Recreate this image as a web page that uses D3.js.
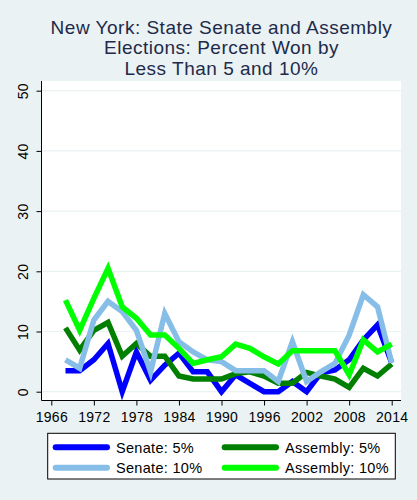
<!DOCTYPE html>
<html>
<head>
<meta charset="utf-8">
<script src="https://cdn.jsdelivr.net/npm/d3@7"></script>
<style>
  body { margin: 0; background: #eaf2f3; }
  text { font-family: "Liberation Sans", Arial, sans-serif; }
</style>
</head>
<body>
<div id="chartContainer"></div>
<script>
// election years and percent of races won by small margins
const years = [1968, 1970, 1972, 1974, 1976, 1978, 1980, 1982, 1984, 1986, 1988, 1990,
               1992, 1994, 1996, 1998, 2000, 2002, 2004, 2006, 2008, 2010, 2012, 2014];
const senate5 = [3.5, 3.5, 5.3, 8.0, 0, 6.6, 1.9, 4.4, 6.4, 3.3, 3.3, 0,
                 2.8, 1.4, 0, 0, 1.7, 0, 3.1, 3.6, 5.3, 8.6, 11.1, 4.8];
const assembly5 = [10.6, 6.9, 10.2, 11.5, 5.9, 8.0, 5.9, 5.9, 2.6, 2.1, 2.1, 2.1,
                   3.0, 3.3, 2.6, 1.4, 1.4, 3.2, 2.6, 2.1, 0.7, 3.9, 2.6, 4.6];
const senate10 = [5.3, 3.9, 11.9, 15.0, 13.3, 10.2, 3.3, 13.0, 8.3, 6.6, 5.3, 5.0,
                  3.5, 3.5, 3.5, 1.7, 8.3, 1.7, 3.3, 4.7, 9.4, 16.1, 14.1, 4.8];
const assembly10 = [15.2, 10.2, 15.5, 20.5, 14.1, 12.2, 9.4, 9.4, 7.2, 4.7, 5.3, 5.8,
                    7.9, 7.2, 5.8, 4.6, 6.8, 6.8, 6.8, 6.8, 2.8, 8.6, 6.6, 7.9];

const xTicks = [1966, 1972, 1978, 1984, 1990, 1996, 2002, 2008, 2014];
const yTicks = [0, 10, 20, 30, 40, 50];
const titleLines = ["New York: State Senate and Assembly", "Elections: Percent Won by", "Less Than 5 and 10%"];

// series in drawing order; legend is laid out row by row
const series = [
  { name: "Senate: 5%", values: senate5, color: "#0000ff" },
  { name: "Assembly: 5%", values: assembly5, color: "#007f00" },
  { name: "Senate: 10%", values: senate10, color: "#87bee8" },
  { name: "Assembly: 10%", values: assembly10, color: "#00ff00" }
];

const W = 417, H = 500;
const plot = { left: 41.5, right: 401, top: 81, bottom: 400.5 };

const svg = d3.select("#chartContainer")
  .append("svg")
  .attr("width", W)
  .attr("height", H);

svg.append("rect").attr("width", W).attr("height", H).attr("fill", "#eaf2f3");

// title
svg.append("g")
  .selectAll("text")
  .data(titleLines)
  .enter()
  .append("text")
  .attr("x", 221.5)
  .attr("y", (d, i) => 34 + i * 20.3)
  .attr("text-anchor", "middle")
  .attr("font-size", "19px")
  .attr("letter-spacing", "0.5px")
  .attr("fill", "#1e2a4a")
  .text(d => d);

// plot region
svg.append("rect")
  .attr("x", plot.left)
  .attr("y", plot.top)
  .attr("width", plot.right - plot.left)
  .attr("height", plot.bottom - plot.top)
  .attr("fill", "#ffffff");

const xScale = d3.scaleLinear().domain([1966, 2014]).range([51.3, 391.7]);
const yScale = d3.scaleLinear().domain([0, 50]).range([391.7, 90.7]);

// gridlines
svg.append("g")
  .selectAll("line")
  .data(yTicks)
  .enter()
  .append("line")
  .attr("x1", plot.left)
  .attr("x2", plot.right)
  .attr("y1", d => yScale(d))
  .attr("y2", d => yScale(d))
  .attr("stroke", "#eaf2f3")
  .attr("stroke-width", 1.2);

// lines
const line = d3.line()
  .x((d, i) => xScale(years[i]))
  .y(d => yScale(d));

svg.append("g")
  .selectAll("path")
  .data(series)
  .enter()
  .append("path")
  .attr("d", d => line(d.values))
  .attr("fill", "none")
  .attr("stroke", d => d.color)
  .attr("stroke-width", 5.5)
  .attr("stroke-linejoin", "miter")
  .attr("stroke-linecap", "butt");

// y axis
const yAxis = svg.append("g")
  .attr("transform", `translate(${plot.left},0)`)
  .call(d3.axisLeft(yScale).tickValues(yTicks).tickSize(5).tickPadding(0).tickFormat(d3.format("d")));
yAxis.select(".domain").attr("d", `M0,${plot.top}V${plot.bottom}`).attr("stroke", "#000");
yAxis.selectAll(".tick line").attr("stroke", "#000");
yAxis.selectAll(".tick text")
  .attr("x", 0)
  .attr("dy", 0)
  .attr("transform", "translate(-14,0) rotate(-90)")
  .attr("text-anchor", "middle")
  .attr("font-size", "14px")
  .attr("letter-spacing", "0.3px")
  .attr("fill", "#000");

// x axis
const xAxis = svg.append("g")
  .attr("transform", `translate(0,${plot.bottom})`)
  .call(d3.axisBottom(xScale).tickValues(xTicks).tickSize(5).tickPadding(7).tickFormat(d3.format("d")));
xAxis.select(".domain").attr("d", `M${plot.left},0H${plot.right}`).attr("stroke", "#000");
xAxis.selectAll(".tick line").attr("stroke", "#000");
xAxis.selectAll(".tick text")
  .attr("font-size", "14px")
  .attr("letter-spacing", "0.3px")
  .attr("fill", "#000");

// legend
const legend = svg.append("g");
legend.append("rect")
  .attr("x", 47.7)
  .attr("y", 433.3)
  .attr("width", 347.6)
  .attr("height", 45.7)
  .attr("fill", "#ffffff")
  .attr("stroke", "#000")
  .attr("stroke-width", 1);

const items = legend.selectAll(".item")
  .data(series)
  .enter()
  .append("g")
  .attr("class", "item")
  .attr("transform", (d, i) => `translate(${i % 2 === 0 ? 52.7 : 221.7},${i < 2 ? 447.3 : 467.7})`);

items.append("line")
  .attr("x1", 3)
  .attr("x2", 54.3)
  .attr("stroke", d => d.color)
  .attr("stroke-width", 6)
  .attr("stroke-linecap", "round");

items.append("text")
  .attr("x", 63.3)
  .attr("dy", "0.36em")
  .attr("font-size", "14.5px")
  .attr("letter-spacing", "0.3px")
  .attr("fill", "#000")
  .text(d => d.name);
</script>
</body>
</html>
